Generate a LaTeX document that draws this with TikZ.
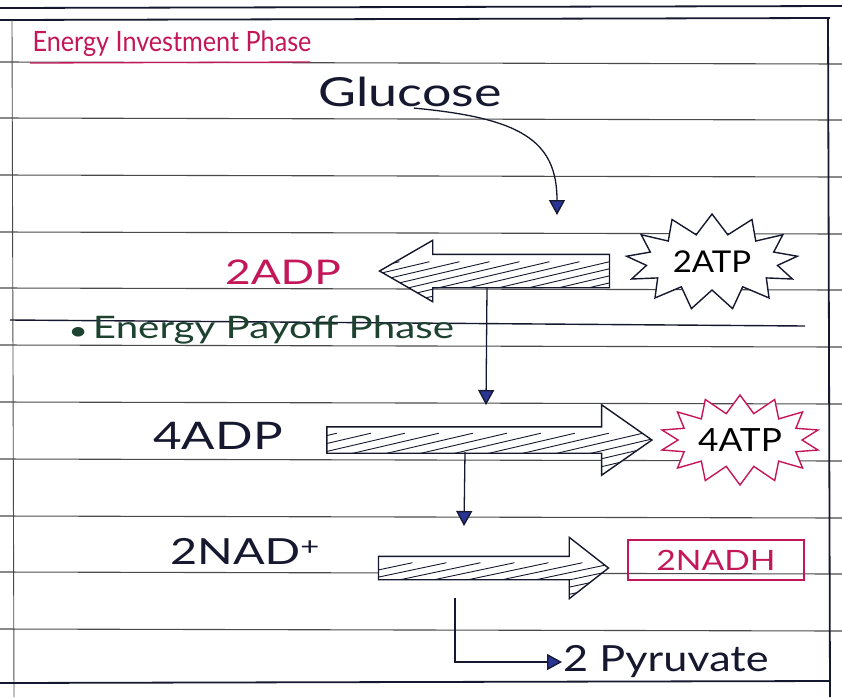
\documentclass[tikz,border=0pt]{standalone}
\usepackage{fontspec}
\setmainfont{Lato}
\usetikzlibrary{shapes.symbols,shapes.arrows,arrows.meta}
\definecolor{ink}{HTML}{15182E}
\definecolor{magink}{HTML}{C4175A}
\definecolor{greenink}{HTML}{1D4230}
\definecolor{tipblue}{HTML}{2A3494}
\definecolor{rule}{HTML}{4A4A4A}
\tikzset{
  ruled/.style={draw=rule, line width=1.1pt},
  border/.style={draw=ink, line width=1.8pt},
  lbl/.style={inner sep=1pt, text=ink},
  conn/.style={draw=ink, line width=1.3pt, -{Triangle[length=15pt,width=16pt,fill=tipblue]}},
  bigarrow/.style={single arrow, draw=ink, line width=1.4pt, fill=white, inner xsep=0pt},
  burst/.style={starburst, draw, line width=1.4pt, fill=white, random starburst=0, inner sep=0pt}
}
\begin{document}
\begin{tikzpicture}[x=1pt,y=-1pt]
\useasboundingbox (0,0) rectangle (842,697);
\fill[white] (0,0) rectangle (842,697);
% ruled lines
\foreach \y in {62,118,175,232,288,345,402,459,516,572,629} {
  \draw[ruled] (0,\y) -- (842,\y+2);
}
% page border
\draw[border] (0,8) -- (842,6);
\draw[border] (0,20) -- (830,18);
\draw[border] (828,18) -- (830,697);
\draw[draw=rule, line width=0.9pt] (12,20) -- (14,697);
\draw[border] (0,683) -- (830,681);
% headings
\node[lbl, text=magink, font=\fontsize{28}{32}\selectfont] (inv) at (172,44) {\scalebox{0.9}[1]{Energy Investment Phase}};
\draw[draw=magink, line width=1.3pt] (30,63) -- (310,62);
\node[lbl, font=\fontsize{40}{46}\selectfont] (glucose) at (410,92) {\scalebox{1.3}[1]{Glucose}};
% first stage
\node[bigarrow, shape border rotate=180, inner ysep=16pt, minimum height=230pt,
      single arrow head extend=14pt, single arrow tip angle=60,
      path picture={\foreach \i in {-5,...,8}{\draw[ink, line width=0.9pt] ([xshift=\i*30pt]path picture bounding box.south west) -- ++(170,-40);}}] (larr) at (509,271) {};
\node[burst, draw=ink, minimum width=172pt, minimum height=96pt, starburst points=13, starburst point height=20pt,
      font=\fontsize{30}{34}\selectfont] (atp2) at (712,262) {\scalebox{1.1}[1]{2ATP}};
\node[lbl, text=magink, font=\fontsize{34}{40}\selectfont] (adp2) at (283,272) {\scalebox{1.3}[1]{2ADP}};
\coordinate (c1) at (557,215);
\draw[conn] ([xshift=4pt]glucose.south) .. controls (520,118) and (557,140) .. (c1);
% payoff heading
\draw[draw=ink, line width=1.4pt] (10,320) -- (805,326);
\node[lbl, text=greenink, font=\fontsize{31}{35}\selectfont] (pay) at (262,330) {\scalebox{1.3}[1]{$\bullet$\,Energy Payoff Phase}};
\coordinate (c2) at (486,405);
\draw[conn] (larr.center) ++(-22,16) -- (c2);
% second stage
\node[lbl, font=\fontsize{38}{44}\selectfont] (adp4) at (218,436) {\scalebox{1.3}[1]{4ADP}};
\node[bigarrow, inner ysep=12.5pt, minimum height=325pt,
      single arrow head extend=22pt, single arrow tip angle=70,
      path picture={\foreach \i in {-5,...,10}{\draw[ink, line width=0.9pt] ([xshift=\i*34pt]path picture bounding box.south west) -- ++(180,-42);}}] (rarr1) at (480,440) {};
\node[burst, draw=magink, minimum width=160pt, minimum height=90pt, starburst points=14, starburst point height=18pt,
      font=\fontsize{32}{36}\selectfont] (atp4) at (740,440) {\scalebox{1.1}[1]{4ATP}};
\coordinate (c3) at (464,526);
\draw[conn] (rarr1.center) ++(-15,12) -- (c3);
% third stage
\node[lbl, font=\fontsize{36}{42}\selectfont] (nad) at (245,551) {\scalebox{1.3}[1]{2NAD\textsuperscript{+}}};
\node[bigarrow, inner ysep=11pt, minimum height=230pt,
      single arrow head extend=19pt, single arrow tip angle=76,
      path picture={\foreach \i in {-5,...,8}{\draw[ink, line width=0.9pt] ([xshift=\i*34pt]path picture bounding box.south west) -- ++(170,-36);}}] (rarr2) at (486,568) {};
\node[draw=magink, line width=1.4pt, text=magink, minimum width=176pt, minimum height=40pt, inner sep=2pt,
      font=\fontsize{28}{32}\selectfont] (nadh) at (716,560) {\scalebox{1.2}[1]{2NADH}};
\node[lbl, font=\fontsize{36}{42}\selectfont, anchor=west] (pyr) at (562,662) {\scalebox{1.2}[1]{2 Pyruvate}};
\draw[conn] (rarr2.center) ++(-31,30) |- (pyr.west);
\end{tikzpicture}
\end{document}
